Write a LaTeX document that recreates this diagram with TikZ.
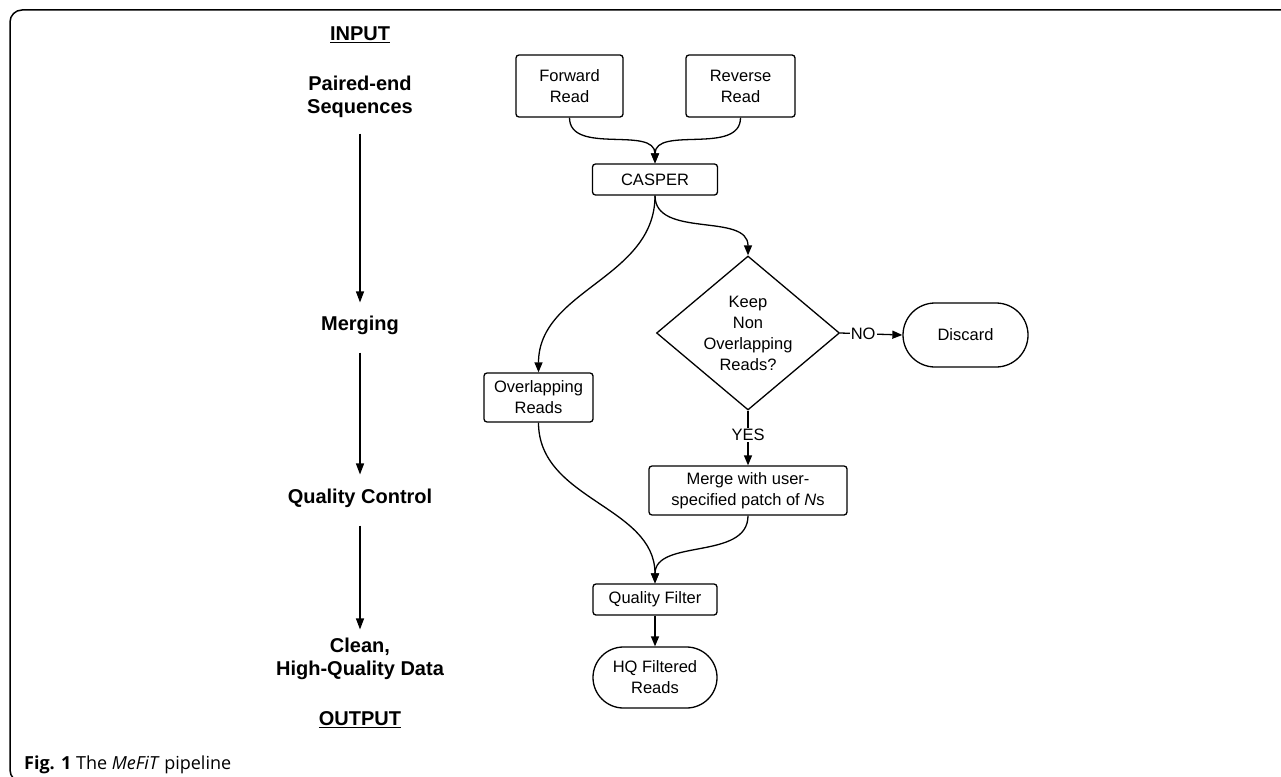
\documentclass[tikz,border=0pt]{standalone}
\usepackage{fontspec}
\setmainfont{Liberation Sans}
\newfontfamily\capfont{Open Sans}
\usetikzlibrary{arrows.meta,shapes.geometric,shapes.misc}
\begin{document}
\begin{tikzpicture}[x=1pt,y=-1pt,
  boxfont/.style={font=\fontsize{16.5}{21}\selectfont},
  box/.style={draw, line width=1.3pt, rounded corners=3pt, align=center, boxfont, inner sep=0pt},
  stad/.style={draw, line width=1.3pt, rounded rectangle, align=center, boxfont, inner sep=0pt},
  lab/.style={font=\bfseries\fontsize{20}{23}\selectfont, align=center, inner sep=0pt},
  con/.style={line width=1.3pt, -{Triangle[length=10pt,width=8pt]}},
  lcon/.style={line width=1.2pt, -{Triangle[length=11pt,width=8pt]}},
  yn/.style={fill=white, inner sep=1pt, boxfont}
]
\useasboundingbox (0,0) rectangle (1281,776);
\clip (0,0) rectangle (1281,776);
\draw[line width=1.5pt, rounded corners=12pt] (1300,10) -- (10,10) -- (10,782) -- (1300,782);

% left column
\node[lab] (inp) at (360,35) {\underline{INPUT}};
\node[lab] (pe) at (360,96.5) {Paired-end\\Sequences};
\node[lab] (mg) at (360,325) {Merging};
\node[lab] (qc) at (360,498) {Quality Control};
\node[lab] (cl) at (360,658.5) {Clean,\\High-Quality Data};
\node[lab] (out) at (360,720) {\underline{OUTPUT}};
\draw[lcon, shorten <=16pt, shorten >=13pt] (pe.south) -- (mg.north);
\draw[lcon, shorten <=18pt, shorten >=14pt] (mg.south) -- (qc.north);
\draw[lcon, shorten <=18pt, shorten >=8pt] (qc.south) -- (cl.north);

% flowchart
\node[box, minimum width=107pt, minimum height=62pt] (fwd) at (569.5,86) {Forward\\Read};
\node[box, minimum width=109pt, minimum height=62pt] (rev) at (740.5,86) {Reverse\\Read};
\node[box, minimum width=125pt, minimum height=31pt] (cas) at (655,179.5) {CASPER};
\node[box, minimum width=109pt, minimum height=49pt] (ovl) at (538.5,397.5) {Overlapping\\Reads};
\node[draw, diamond, line width=1.3pt, minimum width=183pt, minimum height=154pt, inner sep=-14pt, align=center, boxfont] (dec) at (748,333) {Keep\\Non\\Overlapping\\Reads?};
\node[stad, minimum width=125pt, minimum height=64pt] (dis) at (965.5,335) {Discard};
\node[box, minimum width=198pt, minimum height=49pt] (mrg) at (748,490.5) {Merge with user-\\specified patch of \textit{N}s};
\node[box, minimum width=124pt, minimum height=31pt] (qf) at (655,599.5) {Quality Filter};
\node[stad, minimum width=124pt, minimum height=61pt] (hq) at (655,677.5) {HQ Filtered\\Reads};

\draw[con] (fwd.south) to[out=-90,in=90] (cas.north);
\draw[con] (rev.south) to[out=-90,in=90] (cas.north);
\draw[con] (cas.south) to[out=-90,in=90] (ovl.north);
\draw[con] (cas.south) to[out=-90,in=90] (dec.north);
\draw[con] (dec.east) -- node[yn, pos=0.37] (no) {NO} (dis.west);
\draw[con] (dec.south) -- node[yn, pos=0.45] (yes) {YES} (mrg.north);
\draw[con] (ovl.south) to[out=-90,in=90] (qf.north);
\draw[con] (mrg.south) to[out=-90,in=90] (qf.north);
\draw[con] (qf) -- (hq);

% caption
\node[anchor=base west, inner sep=0pt, font=\capfont\fontsize{18}{21}\selectfont] (cap) at (24,769) {\textbf{Fig. 1} The \textit{MeFiT} pipeline};
\end{tikzpicture}
\end{document}
